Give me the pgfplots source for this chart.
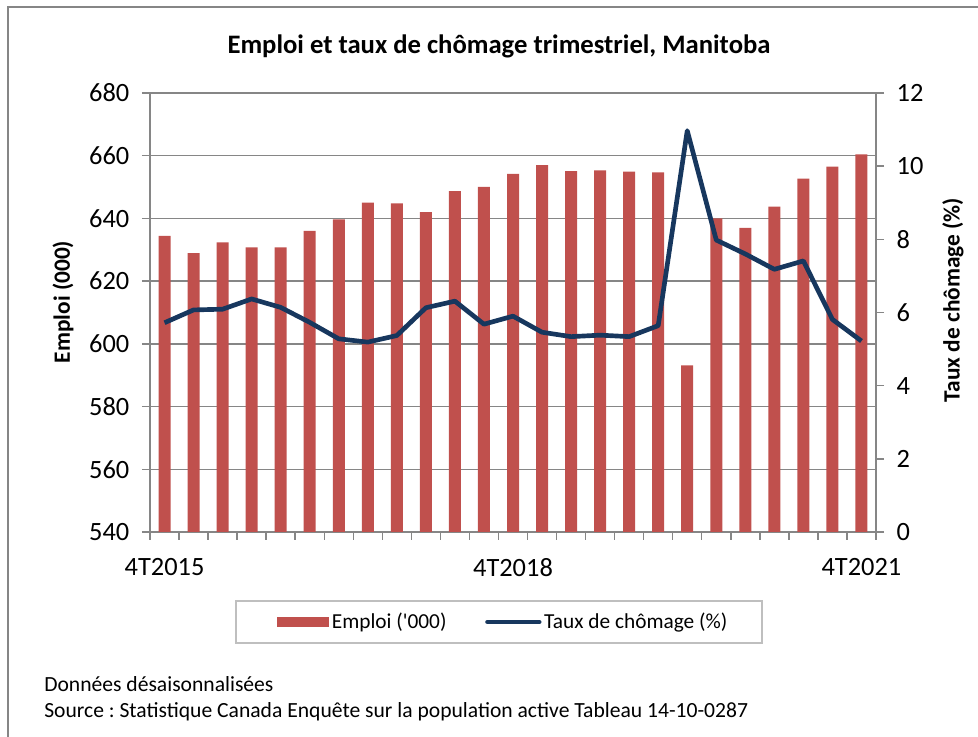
\documentclass[border=0pt]{standalone}
\usepackage{pgfplots}
\pgfplotsset{compat=1.18}
\usepackage{fontspec}
\setmainfont{Carlito}
\frenchspacing
\definecolor{barred}{RGB}{192,80,77}
\definecolor{linblue}{RGB}{23,55,94}
\definecolor{axgray}{RGB}{134,134,134}
\definecolor{boxgray}{RGB}{191,191,191}

\pgfplotstableread{
x emploi taux
0 634.4 5.72
1 628.9 6.07
2 632.4 6.09
3 630.8 6.37
4 630.8 6.14
5 636.0 5.73
6 639.7 5.28
7 645.0 5.19
8 644.8 5.37
9 642.0 6.13
10 648.7 6.31
11 650.1 5.68
12 654.2 5.90
13 657.0 5.46
14 655.1 5.34
15 655.3 5.38
16 654.9 5.34
17 654.7 5.64
18 593.1 10.97
19 640.0 7.98
20 637.0 7.60
21 643.8 7.18
22 652.7 7.41
23 656.5 5.81
24 660.4 5.22
}\datatable

\begin{document}
\begin{tikzpicture}
\useasboundingbox (-112.5pt,-153.75pt) rectangle (621pt,399pt);
% outer frame (left and top edges visible)
\draw[axgray, line width=1.1pt] (-106.5pt,-160pt) -- (-106.5pt,393.75pt) -- (630pt,393.75pt);

\begin{axis}[
  at={(0pt,0pt)}, anchor=south west,
  width=544.5pt, height=329.25pt, scale only axis,
  xmin=-0.5, xmax=24.5, ymin=540, ymax=680,
  ytick={540,560,...,680},
  xtick={-0.5,0.5,...,24.5}, xticklabels={},
  extra x ticks={0,12,24},
  extra x tick labels={4T2015,4T2018,4T2021},
  extra x tick style={major tick length=0pt, grid=none,
     tick label style={yshift=-16pt}},
  xtick pos=bottom, ytick pos=left,
  tick align=outside, major tick length=6pt,
  ymajorgrids,
  grid style={axgray, line width=1.1pt},
  axis line style={axgray, line width=1.1pt},
  tick style={axgray, line width=1.1pt},
  tick label style={font=\fontsize{19.8}{22}\selectfont, text=black},
  yticklabel style={xshift=-6pt},
  /pgf/number format/assume math mode=true,
  legend style={at={(0.1749,-0.205)}, anchor=west, draw=none, fill=none,
    inner sep=0pt, legend columns=2,
    font=\fontsize{16}{18}\selectfont,
    /tikz/every even column/.append style={column sep=27pt}},
  legend cell align=left,
]
\addplot[ybar, bar width=9pt, fill=barred, draw=none,
  legend image code/.code={\fill[barred] (0pt,-4pt) rectangle (39pt,4pt);}]
  table[x=x, y=emploi] {\datatable};
\addlegendentry{Emploi (\textquotesingle000)}
\addlegendimage{linblue, line width=3.5pt, line cap=round,
  legend image code/.code={\draw[linblue, line width=3.5pt, line cap=round] (1.75pt,0pt) -- (40.5pt,0pt);}}
\addlegendentry{Taux de chômage (\%)}
\end{axis}

\begin{axis}[
  at={(0pt,0pt)}, anchor=south west,
  width=544.5pt, height=329.25pt, scale only axis,
  xmin=-0.5, xmax=24.5, ymin=0, ymax=12,
  ytick={0,2,...,12}, ytick pos=right,
  hide x axis,
  axis line style={draw=none},
  tick align=outside, major tick length=6pt,
  tick style={axgray, line width=1.1pt},
  tick label style={font=\fontsize{19.8}{22}\selectfont, text=black},
  yticklabel style={xshift=6pt},
  /pgf/number format/assume math mode=true,
]
\addplot[linblue, line width=3.5pt, line join=round, mark=none]
  table[x=x, y=taux] {\datatable};
\end{axis}

% legend box
\draw[boxgray, line width=1.1pt] (64.5pt,-51.75pt) rectangle (459pt,-83.25pt);
% title
\node[font=\fontsize{20}{23}\selectfont\bfseries] at (261.75pt,364.5pt)
  {Emploi et taux de chômage trimestriel, Manitoba};
% axis labels
\node[font=\fontsize{17.5}{20}\selectfont\bfseries, rotate=90] at (-65.25pt,172.5pt) {Emploi (000)};
\node[font=\fontsize{17.5}{20}\selectfont\bfseries, rotate=90] at (602.25pt,174pt) {Taux de chômage (\%)};
% footnotes
\node[anchor=west, inner sep=0pt, font=\fontsize{16.2}{18}\selectfont] at (-79.5pt,-114pt) {Données désaisonnalisées};
\node[anchor=west, inner sep=0pt, font=\fontsize{16.2}{18}\selectfont] at (-79.5pt,-134.5pt) {Source : Statistique Canada Enquête sur la population active Tableau 14-10-0287};
\end{tikzpicture}
\end{document}
